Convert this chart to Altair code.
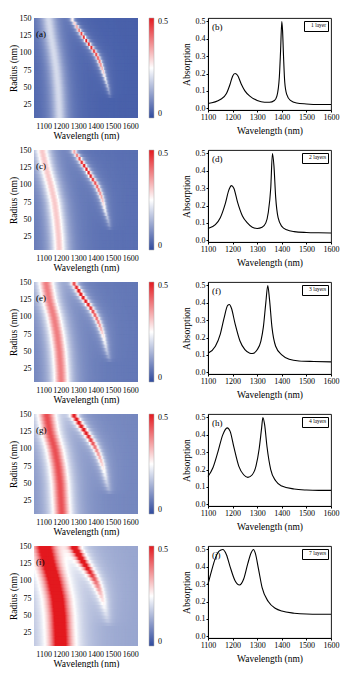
import altair as alt
import numpy as np
import pandas as pd

FONT = "Liberation Serif, Times New Roman, serif"

# ---------------- right column: absorption spectra ----------------
lam_b = [1100, 1150, 1175, 1190, 1200, 1210, 1220, 1235, 1250, 1270, 1300, 1330, 1350, 1370, 1380, 1390, 1395, 1400, 1403, 1407, 1412, 1420, 1435, 1460, 1500, 1550, 1600]
abs_b = [0.027, 0.05, 0.085, 0.14, 0.185, 0.2, 0.19, 0.14, 0.1, 0.07, 0.045, 0.035, 0.035, 0.045, 0.07, 0.18, 0.33, 0.5, 0.45, 0.3, 0.15, 0.08, 0.045, 0.03, 0.025, 0.022, 0.022]

lam_d = [1100, 1130, 1150, 1170, 1185, 1195, 1205, 1220, 1240, 1260, 1280, 1300, 1320, 1335, 1345, 1355, 1362, 1368, 1375, 1385, 1400, 1420, 1450, 1500, 1550, 1600]
abs_d = [0.068, 0.09, 0.13, 0.21, 0.29, 0.315, 0.3, 0.22, 0.14, 0.1, 0.075, 0.068, 0.075, 0.1, 0.16, 0.3, 0.5, 0.43, 0.25, 0.13, 0.08, 0.06, 0.05, 0.045, 0.043, 0.042]

lam_f = [1100, 1130, 1150, 1165, 1180, 1187, 1195, 1210, 1230, 1250, 1270, 1280, 1300, 1315, 1325, 1335, 1343, 1350, 1360, 1375, 1400, 1430, 1470, 1530, 1600]
abs_f = [0.11, 0.15, 0.22, 0.31, 0.385, 0.39, 0.37, 0.28, 0.18, 0.13, 0.11, 0.108, 0.13, 0.18, 0.26, 0.4, 0.5, 0.42, 0.26, 0.15, 0.1, 0.075, 0.065, 0.062, 0.06]

lam_h = [1100, 1120, 1140, 1160, 1178, 1190, 1205, 1225, 1245, 1262, 1280, 1295, 1308, 1318, 1323, 1330, 1340, 1355, 1375, 1400, 1450, 1500, 1550, 1600]
abs_h = [0.16, 0.21, 0.3, 0.4, 0.44, 0.42, 0.33, 0.22, 0.17, 0.155, 0.17, 0.22, 0.32, 0.44, 0.5, 0.46, 0.33, 0.2, 0.135, 0.105, 0.088, 0.082, 0.08, 0.08]

lam_j = [1100, 1115, 1130, 1145, 1160, 1175, 1190, 1210, 1228, 1245, 1262, 1275, 1285, 1292, 1305, 1320, 1345, 1375, 1400, 1450, 1500, 1550, 1600]
abs_j = [0.3, 0.38, 0.45, 0.49, 0.5, 0.47, 0.4, 0.32, 0.295, 0.33, 0.42, 0.48, 0.5, 0.48, 0.39, 0.28, 0.2, 0.16, 0.145, 0.133, 0.128, 0.127, 0.127]

spectra = [
    ("(b)", "1 layer", lam_b, abs_b),
    ("(d)", "2 layers", lam_d, abs_d),
    ("(f)", "3 layers", lam_f, abs_f),
    ("(h)", "4 layers", lam_h, abs_h),
    ("(j)", "7 layers", lam_j, abs_j),
]

# ---------------- left column: heat maps, key readings per panel ----------------
# mode 1 (broad band): centre wavelength vs radius
m1_r = [150, 125, 100, 75, 50, 25, 10]
m1_c_a = [1169, 1180, 1195, 1207, 1215, 1220, 1222]
m1_c_c = [1138, 1157, 1180, 1199, 1210, 1218, 1221]
m1_c_e = [1157, 1172, 1195, 1211, 1222, 1228, 1230]
m1_c_g = [1160, 1175, 1199, 1215, 1225, 1230, 1233]
m1_c_i = [1150, 1170, 1195, 1213, 1222, 1226, 1228]
# mode 2 (narrow band): centre and height vs radius
m2_r = [150, 140, 130, 120, 110, 100, 90, 80, 70, 60, 50, 40, 35]
m2_c_a = [1279, 1300, 1322, 1345, 1370, 1395, 1412, 1424, 1435, 1445, 1455, 1463, 1466]
m2_h_a = [0.22, 0.30, 0.42, 0.47, 0.47, 0.47, 0.42, 0.35, 0.26, 0.18, 0.12, 0.06, 0.0]
m2_c_c = [1287, 1313, 1335, 1358, 1378, 1400, 1415, 1427, 1436, 1444, 1455, 1462, 1465]
m2_h_c = [0.28, 0.38, 0.45, 0.45, 0.44, 0.40, 0.35, 0.29, 0.22, 0.16, 0.10, 0.05, 0.0]
m2_c_e = [1287, 1310, 1330, 1355, 1379, 1398, 1413, 1425, 1435, 1443, 1450, 1460, 1464]
m2_h_e = [0.36, 0.44, 0.44, 0.43, 0.40, 0.36, 0.32, 0.26, 0.20, 0.15, 0.10, 0.05, 0.0]
m2_c_g = [1287, 1310, 1333, 1357, 1379, 1398, 1413, 1425, 1435, 1443, 1450, 1460, 1464]
m2_h_g = [0.40, 0.42, 0.42, 0.40, 0.36, 0.30, 0.26, 0.22, 0.17, 0.13, 0.09, 0.05, 0.0]
m2_c_i = [1290, 1310, 1330, 1352, 1375, 1395, 1410, 1422, 1432, 1440, 1448, 1455, 1460]
m2_h_i = [0.45, 0.45, 0.42, 0.38, 0.33, 0.27, 0.22, 0.17, 0.13, 0.09, 0.06, 0.03, 0.0]

# (label, background, mode-1 height, mode-1 FWHM, mode-1 centres, mode-2 FWHM, mode-2 centres, mode-2 heights)
maps = [
    ("(a)", 0.03, 0.17, 70, m1_c_a, 15, m2_c_a, m2_h_a),
    ("(c)", 0.05, 0.26, 70, m1_c_c, 18, m2_c_c, m2_h_c),
    ("(e)", 0.06, 0.33, 75, m1_c_e, 22, m2_c_e, m2_h_e),
    ("(g)", 0.08, 0.36, 80, m1_c_g, 28, m2_c_g, m2_h_g),
    ("(i)", 0.12, 0.50, 90, m1_c_i, 40, m2_c_i, m2_h_i),
]

lam_cells = np.arange(1100, 1600, 5)
r_cells = np.arange(5, 150, 5)
x_ticks = [1100, 1200, 1300, 1400, 1500, 1600]
r_ticks = [25, 50, 75, 100, 125, 150]


def lor(x, c, w):
    return 1.0 / (1.0 + ((x - c) / (w / 2.0)) ** 2)


def heat_table(bg, h1, w1, c1, w2, c2, h2):
    rows = []
    for r0 in r_cells:
        rc = r0 + 2.5
        cc1 = np.interp(rc, m1_r[::-1], c1[::-1])
        cc2 = np.interp(rc, m2_r[::-1], c2[::-1])
        hh2 = np.interp(rc, m2_r[::-1], h2[::-1], left=0.0)
        lc = lam_cells + 2.5
        v = bg + h1 * lor(lc, cc1, w1) + hh2 * lor(lc, cc2, w2)
        for l0, vv in zip(lam_cells, v):
            rows.append((int(l0), int(r0), round(float(vv), 3)))
    return pd.DataFrame(rows, columns=["l0", "r0", "v"])


color_scale = alt.Scale(domain=[0, 0.25, 0.5], range=["#2f4a9e", "#ffffff", "#e3191f"],
                        interpolate="rgb", clamp=True)

HM_W, HM_H = 104, 100
SP_W, SP_H = 123, 92


def heatmap(label, bg, h1, w1, c1, w2, c2, h2):
    df = heat_table(bg, h1, w1, c1, w2, c2, h2)
    # each cell is drawn slightly larger than its step; the next cell covers the overlap (no seams)
    rect = alt.Chart(df).transform_calculate(
        l1="datum.l0 + 11", r1="datum.r0 + 7.5"
    ).mark_rect(clip=True, opacity=1, fillOpacity=1, strokeWidth=0).encode(
        x=alt.X("l0:Q", scale=alt.Scale(domain=[1100, 1600], nice=False, zero=False), axis=None),
        x2="l1:Q",
        y=alt.Y("r0:Q", scale=alt.Scale(domain=[6, 150], nice=False, zero=False),
                axis=alt.Axis(values=r_ticks, title="Radius (nm)", domain=False, ticks=False,
                              labelPadding=3, titlePadding=1, labelFontSize=8, titleFontSize=9.5)),
        y2="r1:Q",
        color=alt.Color("v:Q", scale=color_scale,
                        legend=alt.Legend(title=None, values=[0, 0.5], gradientLength=HM_H,
                                          gradientThickness=5, labelFontSize=8, labelFont=FONT,
                                          labelBaseline="middle", labelOffset=4, offset=11,
                                          gradientStrokeColor="#aaaaaa", gradientStrokeWidth=0.5,
                                          padding=0, labelOverlap=False, format="~g",
                                          orient="right")),
    )
    axis_layer = alt.Chart(pd.DataFrame({"t": x_ticks})).mark_point(opacity=0).encode(
        x=alt.X("t:Q", scale=alt.Scale(domain=[1045, 1645], nice=False, zero=False),
                axis=alt.Axis(values=x_ticks, format="d", title="Wavelength (nm)", orient="bottom",
                              domain=False, ticks=False, labelPadding=4, titlePadding=0,
                              labelFontSize=8, titleFontSize=9.5, labelFlush=False)),
        y=alt.value(0),
    )
    txt = alt.Chart(pd.DataFrame({"t": [label]})).mark_text(
        font=FONT, fontSize=9, align="left", baseline="middle", color="black"
    ).encode(text="t:N", x=alt.value(2), y=alt.value(16))
    return alt.layer(rect, axis_layer, txt).resolve_scale(x="independent").properties(
        width=HM_W, height=HM_H, view=alt.ViewBackground(strokeOpacity=0))


def spectrum(label, tag, lams, vals):
    df = pd.DataFrame({"lam": lams, "a": vals, "s": tag})
    line = alt.Chart(df).mark_line(strokeWidth=1.1, interpolate="monotone").encode(
        x=alt.X("lam:Q", scale=alt.Scale(domain=[1100, 1600], nice=False, zero=False),
                axis=alt.Axis(values=x_ticks, format="d", title="Wavelength (nm)", tickSize=2,
                              labelPadding=1.5, titlePadding=4, labelFontSize=8, titleFontSize=9.5,
                              labelFlush=False)),
        y=alt.Y("a:Q", scale=alt.Scale(domain=[-0.01, 0.52], nice=False, zero=False),
                axis=alt.Axis(values=[0, 0.1, 0.2, 0.3, 0.4, 0.5], format=".1f", title="Absorption",
                              tickSize=2, labelPadding=1, titlePadding=3.5, labelFontSize=8,
                              titleFontSize=9.5)),
        color=alt.Color("s:N", scale=alt.Scale(range=["black"]),
                        legend=alt.Legend(title=None, orient="top-right", offset=3, labelFontSize=5.5,
                                          labelFont=FONT, symbolSize=0, symbolOpacity=0,
                                          symbolStrokeWidth=0, labelOffset=0, padding=1.5,
                                          strokeColor="black", fillColor="white", cornerRadius=0)),
    )
    txt = alt.Chart(pd.DataFrame({"t": [label]})).mark_text(
        font=FONT, fontSize=9, align="left", baseline="middle", color="black"
    ).encode(text="t:N", x=alt.value(4), y=alt.value(9))
    return alt.layer(line, txt).properties(
        width=SP_W, height=SP_H,
        title=alt.TitleParams("\u00a0", fontSize=9, offset=0),
        view=alt.ViewBackground(stroke="black", strokeWidth=0.9))


rows = []
for mp, sp in zip(maps, spectra):
    row = alt.hconcat(heatmap(*mp), spectrum(*sp), spacing=13).resolve_scale(
        color="independent").resolve_legend(color="independent")
    rows.append(row)

chart = alt.vconcat(*rows, spacing=0).resolve_scale(color="independent").resolve_legend(
    color="independent").properties(padding=0).configure_axis(
    labelFont=FONT, titleFont=FONT, labelColor="black", titleColor="black",
    titleFontWeight="normal", domainColor="black", tickColor="black", grid=False
).configure_view(stroke="transparent").configure_legend(labelColor="black")

chart.save("out.html", embed_options={"renderer": "svg", "actions": False})
